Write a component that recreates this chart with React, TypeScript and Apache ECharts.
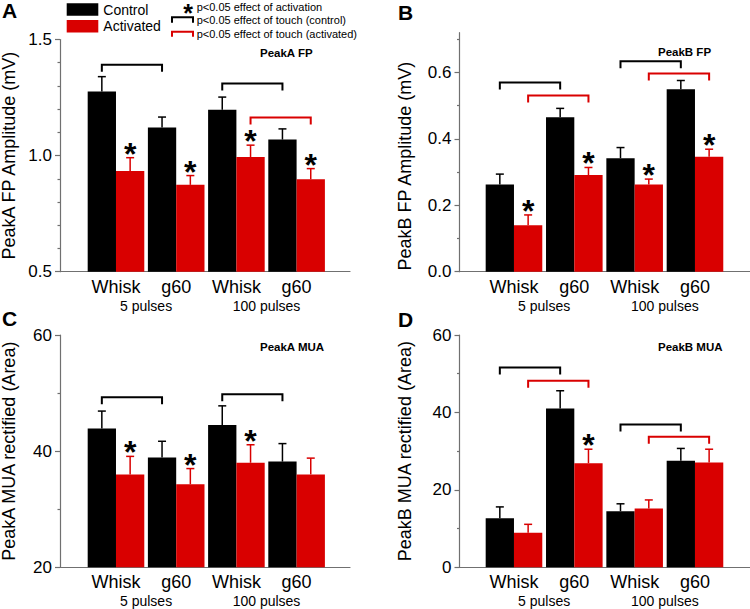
import React, { useEffect, useRef } from 'react';
import * as echarts from 'echarts';

const FONT = '"Liberation Sans", Arial, Helvetica, sans-serif';
const BLACK = '#000000';
const RED = '#d90000';
const AXIS_COLOR = '#707070';
const BAR_WIDTH = 28.3;
const HALF = BAR_WIDTH / 2;

// Shared categories
const categories = ['Whisk', 'g60', 'Whisk', 'g60'];
const categoryPositions = [1, 2, 3, 4];
const pulseGroups = ['5 pulses', '100 pulses'];
const pulseGroupPositions = [1.5, 3.5];
const seriesNames = ['Control', 'Activated'];

// Panel A: PeakA FP
const peakAFPControl = [1.276, 1.121, 1.197, 1.069];
const peakAFPControlErr = [0.064, 0.045, 0.055, 0.046];
const peakAFPActivated = [0.934, 0.874, 0.994, 0.898];
const peakAFPActivatedErr = [0.057, 0.04, 0.051, 0.046];
const peakAFPStars = [1, 1, 1, 1];
// [fromPos, toPos, group (0 control, 1 activated), height]
const peakAFPBrackets = [[1, 2, 0, 1.391], [3, 4, 0, 1.31], [3, 4, 1, 1.164]];
const peakAFPTicks = [0.5, 1.0, 1.5];
const peakAFPMinorTicks = [0.6, 0.7, 0.8, 0.9, 1.1, 1.2, 1.3, 1.4];

// Panel B: PeakB FP
const peakBFPControl = [0.263, 0.465, 0.342, 0.55];
const peakBFPControlErr = [0.031, 0.027, 0.032, 0.026];
const peakBFPActivated = [0.14, 0.291, 0.263, 0.346];
const peakBFPActivatedErr = [0.031, 0.023, 0.016, 0.023];
const peakBFPStars = [1, 1, 1, 1];
const peakBFPBrackets = [[1, 2, 0, 0.57], [1, 2, 1, 0.531], [3, 4, 0, 0.634], [3, 4, 1, 0.597]];
const peakBFPTicks = [0, 0.2, 0.4, 0.6];
const peakBFPMinorTicks = [0.1, 0.3, 0.5, 0.7];

// Panel C: PeakA MUA
const peakAMUAControl = [43.9, 38.9, 44.5, 38.2];
const peakAMUAControlErr = [3.0, 2.8, 3.3, 3.1];
const peakAMUAActivated = [36.0, 34.3, 38.0, 36.0];
const peakAMUAActivatedErr = [3.1, 2.7, 3.1, 2.8];
const peakAMUAStars = [1, 1, 1, 0];
const peakAMUABrackets = [[1, 2, 0, 49.3], [3, 4, 0, 49.8]];
const peakAMUATicks = [20, 40, 60];
const peakAMUAMinorTicks = [30, 50];

// Panel D: PeakB MUA
const peakBMUAControl = [12.7, 41.0, 14.5, 27.5];
const peakBMUAControlErr = [2.9, 4.6, 1.9, 3.2];
const peakBMUAActivated = [8.9, 26.9, 15.2, 27.1];
const peakBMUAActivatedErr = [2.2, 3.6, 2.2, 3.4];
const peakBMUAStars = [0, 1, 0, 0];
const peakBMUABrackets = [[1, 2, 0, 51.6], [1, 2, 1, 48.2], [3, 4, 0, 36.9], [3, 4, 1, 33.7]];
const peakBMUATicks = [0, 20, 40, 60];
const peakBMUAMinorTicks = [10, 30, 50];

const panels = [
  {
    letter: 'A', title: 'PeakA FP', yName: 'PeakA FP Amplitude (mV)',
    control: peakAFPControl, controlErr: peakAFPControlErr,
    activated: peakAFPActivated, activatedErr: peakAFPActivatedErr,
    stars: peakAFPStars, brackets: peakAFPBrackets,
    ticks: peakAFPTicks, minor: peakAFPMinorTicks, digits: 1,
    yMin: 0.5, yMax: 1.5, xMin: 0.07, xMax: 4.887,
    grid: { left: 60, top: 39.5, width: 290, height: 232.2 },
    nameGap: 42, namePad: [0, 0, 0, 0],
    letterPos: [2, 10], titlePos: [260, 53],
  },
  {
    letter: 'B', title: 'PeakB FP', yName: 'PeakB FP Amplitude (mV)',
    control: peakBFPControl, controlErr: peakBFPControlErr,
    activated: peakBFPActivated, activatedErr: peakBFPActivatedErr,
    stars: peakBFPStars, brackets: peakBFPBrackets,
    ticks: peakBFPTicks, minor: peakBFPMinorTicks, digits: 1,
    yMin: 0, yMax: 0.72, xMin: 0.097, xMax: 4.912,
    grid: { left: 459.5, top: 32.7, width: 290.5, height: 239 },
    nameGap: 46, namePad: [0, 28, 0, 0],
    letterPos: [398, 12], titlePos: [658, 51.7],
  },
  {
    letter: 'C', title: 'PeakA MUA', yName: 'PeakA MUA rectified (Area)',
    control: peakAMUAControl, controlErr: peakAMUAControlErr,
    activated: peakAMUAActivated, activatedErr: peakAMUAActivatedErr,
    stars: peakAMUAStars, brackets: peakAMUABrackets,
    ticks: peakAMUATicks, minor: peakAMUAMinorTicks, digits: 0,
    yMin: 20, yMax: 60, xMin: 0.07, xMax: 4.887,
    grid: { left: 60, top: 335, width: 290, height: 232.3 },
    nameGap: 42, namePad: [0, 0, 0, 0],
    letterPos: [2, 318.5], titlePos: [260, 346.7],
  },
  {
    letter: 'D', title: 'PeakB MUA', yName: 'PeakB MUA rectified (Area)',
    control: peakBMUAControl, controlErr: peakBMUAControlErr,
    activated: peakBMUAActivated, activatedErr: peakBMUAActivatedErr,
    stars: peakBMUAStars, brackets: peakBMUABrackets,
    ticks: peakBMUATicks, minor: peakBMUAMinorTicks, digits: 0,
    yMin: 0, yMax: 60, xMin: 0.097, xMax: 4.912,
    grid: { left: 459.5, top: 335, width: 290.5, height: 232.3 },
    nameGap: 46, namePad: [0, 0, 0, 0],
    letterPos: [398, 319], titlePos: [658, 346.7],
  },
];

function buildOption() {
  const grid: any[] = [];
  const xAxis: any[] = [];
  const yAxis: any[] = [];
  const series: any[] = [];
  const graphic: any[] = [];
  const axisLineStyle = { color: AXIS_COLOR, width: 1.2 };

  panels.forEach((p, i) => {
    grid.push({ ...p.grid, outerBoundsMode: 'none', containLabel: false });
    // main x axis
    xAxis.push({
      type: 'value', gridIndex: i, min: p.xMin, max: p.xMax, position: 'bottom',
      axisLine: { show: true, onZero: false, lineStyle: axisLineStyle },
      axisTick: { show: false },
      splitLine: { show: false },
      axisLabel: {
        customValues: categoryPositions,
        formatter: (v: number) => categories[Math.round(v) - 1],
        fontSize: 18, color: '#000', fontFamily: FONT, margin: 6,
      },
    });
    // pulse group labels
    xAxis.push({
      type: 'value', gridIndex: i, min: p.xMin, max: p.xMax, position: 'bottom',
      axisLine: { show: false, onZero: false },
      axisTick: { show: false },
      splitLine: { show: false },
      axisLabel: {
        customValues: pulseGroupPositions,
        formatter: (v: number) => pulseGroups[v < 2.5 ? 0 : 1],
        fontSize: 14, color: '#000', fontFamily: FONT, margin: 27,
      },
    });
    yAxis.push({
      type: 'value', gridIndex: i, min: p.yMin, max: p.yMax, position: 'left',
      axisLine: { show: true, onZero: false, lineStyle: axisLineStyle },
      axisTick: { show: true, inside: false, length: 5, customValues: p.ticks, lineStyle: axisLineStyle },
      axisLabel: {
        customValues: p.ticks,
        formatter: (v: number) => v.toFixed(p.digits),
        fontSize: 17, color: '#000', fontFamily: FONT, margin: 8,
      },
      splitLine: { show: false },
      name: p.yName, nameLocation: 'middle', nameGap: p.nameGap, nameRotate: 90,
      nameMoveOverlap: false,
      nameTextStyle: { fontSize: 18, color: '#000', fontFamily: FONT, padding: p.namePad },
    });
    yAxis.push({
      type: 'value', gridIndex: i, min: p.yMin, max: p.yMax, position: 'left',
      axisLine: { show: false, onZero: false },
      axisTick: { show: true, inside: false, length: 2.5, customValues: p.minor, lineStyle: axisLineStyle },
      axisLabel: { show: false },
      splitLine: { show: false },
    });

    const xi = 2 * i;
    const yi = 2 * i;
    series.push({
      type: 'bar', name: seriesNames[0], xAxisIndex: xi, yAxisIndex: yi,
      data: p.control.map((v, k) => [categoryPositions[k], v]),
      barWidth: BAR_WIDTH, barGap: '0%', itemStyle: { color: BLACK },
    });
    series.push({
      type: 'bar', name: seriesNames[1], xAxisIndex: xi, yAxisIndex: yi,
      data: p.activated.map((v, k) => [categoryPositions[k], v]),
      barWidth: BAR_WIDTH, barGap: '0%', itemStyle: { color: RED },
    });
    // error bars
    const errData: number[][] = [];
    p.control.forEach((v, k) => errData.push([categoryPositions[k], v, p.controlErr[k], 0]));
    p.activated.forEach((v, k) => errData.push([categoryPositions[k], v, p.activatedErr[k], 1]));
    series.push({
      type: 'custom', name: 'err' + i, xAxisIndex: xi, yAxisIndex: yi,
      data: errData, encode: { x: 0, y: 1 }, z: 3,
      renderItem: (params: any, api: any) => {
        const x = api.value(0), v = api.value(1), e = api.value(2), kind = api.value(3);
        const off = kind === 0 ? -HALF : HALF;
        const base = api.coord([x, v]);
        const top = api.coord([x, v + e]);
        const cx = base[0] + off;
        const color = kind === 0 ? BLACK : RED;
        return {
          type: 'group',
          children: [
            { type: 'line', shape: { x1: cx, y1: base[1], x2: cx, y2: top[1] }, style: { stroke: color, lineWidth: 1.5 } },
            { type: 'line', shape: { x1: cx - 4, y1: top[1], x2: cx + 4, y2: top[1] }, style: { stroke: color, lineWidth: 1.5 } },
          ],
        };
      },
    });
    // significance stars
    const starData: number[][] = [];
    p.stars.forEach((s, k) => { if (s) starData.push([categoryPositions[k], p.activated[k] + p.activatedErr[k]]); });
    series.push({
      type: 'custom', name: 'stars' + i, xAxisIndex: xi, yAxisIndex: yi,
      data: starData, encode: { x: 0, y: 1 }, z: 4, clip: false,
      renderItem: (params: any, api: any) => {
        const pt = api.coord([api.value(0), api.value(1)]);
        return {
          type: 'text', x: pt[0] + HALF, y: pt[1] - 4,
          style: { text: '*', fontSize: 32, fontWeight: 'bold', fontFamily: FONT, fill: '#000', align: 'center', verticalAlign: 'middle' },
        };
      },
    });
    // brackets
    series.push({
      type: 'custom', name: 'brackets' + i, xAxisIndex: xi, yAxisIndex: yi,
      data: p.brackets, encode: { x: [0, 1], y: 2 }, z: 4, clip: false,
      renderItem: (params: any, api: any) => {
        const kind = api.value(2);
        const off = kind === 0 ? -HALF : HALF;
        const a = api.coord([api.value(0), api.value(3)]);
        const b = api.coord([api.value(1), api.value(3)]);
        const x1 = a[0] + off, x2 = b[0] + off, y = a[1];
        return {
          type: 'polyline',
          shape: { points: [[x1, y + 7], [x1, y], [x2, y], [x2, y + 7]] },
          style: { stroke: kind === 0 ? BLACK : RED, lineWidth: 2, fill: 'none' },
        };
      },
    });

    graphic.push({
      type: 'text', x: p.letterPos[0], y: p.letterPos[1],
      style: { text: p.letter, fontSize: 21, fontWeight: 'bold', fontFamily: FONT, fill: '#000', align: 'left', verticalAlign: 'middle' },
    });
    graphic.push({
      type: 'text', x: p.titlePos[0], y: p.titlePos[1],
      style: { text: p.title, fontSize: 11.5, fontWeight: 'bold', fontFamily: FONT, fill: '#000', align: 'left', verticalAlign: 'middle' },
    });
  });

  // significance legend
  graphic.push({
    type: 'text', x: 188, y: 0.5,
    style: { text: '*', fontSize: 25, fontWeight: 'bold', fontFamily: FONT, fill: '#000', align: 'center', verticalAlign: 'top' },
  });
  graphic.push({
    type: 'text', x: 196.7, y: 6.5,
    style: { text: 'p<0.05 effect of activation', fontSize: 11, fontFamily: FONT, fill: '#000', align: 'left', verticalAlign: 'middle' },
  });
  graphic.push({
    type: 'polyline', shape: { points: [[172, 22.7], [172, 17.3], [193, 17.3], [193, 22.7]] },
    style: { stroke: BLACK, lineWidth: 2, fill: 'none' },
  });
  graphic.push({
    type: 'text', x: 196.7, y: 20,
    style: { text: 'p<0.05 effect of touch (control)', fontSize: 11, fontFamily: FONT, fill: '#000', align: 'left', verticalAlign: 'middle' },
  });
  graphic.push({
    type: 'polyline', shape: { points: [[172, 36.7], [172, 31.7], [193, 31.7], [193, 36.7]] },
    style: { stroke: RED, lineWidth: 2, fill: 'none' },
  });
  graphic.push({
    type: 'text', x: 196.7, y: 34,
    style: { text: 'p<0.05 effect of touch (activated)', fontSize: 11, fontFamily: FONT, fill: '#000', align: 'left', verticalAlign: 'middle' },
  });

  return {
    animation: false,
    backgroundColor: '#ffffff',
    textStyle: { fontFamily: FONT },
    legend: {
      data: seriesNames,
      orient: 'vertical', left: 66.7, top: 2.5, padding: 0,
      itemWidth: 31.6, itemHeight: 12.4, itemGap: 2.7,
      icon: 'rect', selectedMode: false,
      textStyle: { fontSize: 14, color: '#000', fontFamily: FONT },
    },
    grid, xAxis, yAxis, series, graphic,
  };
}

export default function App() {
  const ref = useRef<HTMLDivElement>(null);
  useEffect(() => {
    document.body.style.margin = '0';
    if (!ref.current) return;
    const chart = echarts.init(ref.current, undefined, { renderer: 'svg' });
    chart.setOption(buildOption() as any);
    return () => chart.dispose();
  }, []);
  return <div ref={ref} style={{ width: 750, height: 609 }} />;
}
